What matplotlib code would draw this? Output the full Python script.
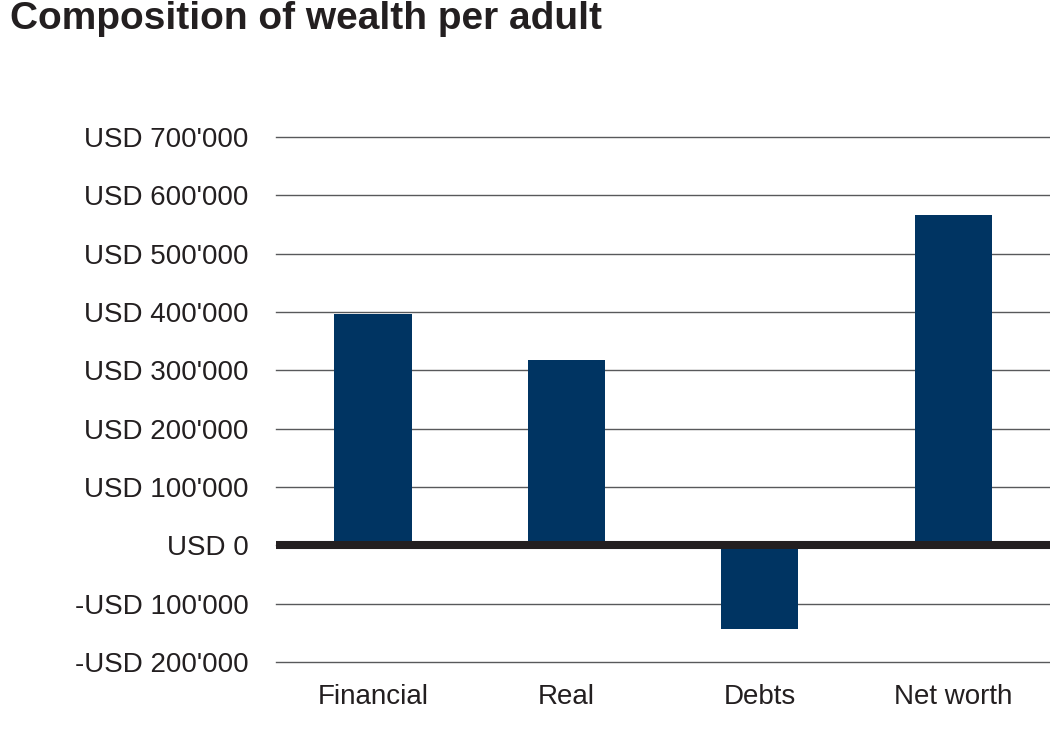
import numpy as np
import matplotlib.pyplot as plt

plt.rcParams['font.family'] = ['Liberation Sans', 'DejaVu Sans']

# ---- data ----
categories = ['Financial', 'Real', 'Debts', 'Net worth']
values = [396000, 317000, -144000, 566000]
yticks = np.arange(-200000, 700001, 100000)


def usd(v):
    s = f"{abs(int(v)):,}".replace(',', "'")
    return ('-' if v < 0 else '') + 'USD ' + s


TEXT = '#231f20'
BAR = '#003462'

fig = plt.figure(figsize=(10.5, 7.33), dpi=100)
ax = fig.add_axes([0.263, 0.0969, 0.737, 0.7162])

x = np.arange(len(categories))
ax.bar(x, values, width=0.4, color=BAR, zorder=2)

# zero line
ax.axhline(0, color=TEXT, lw=5.8, zorder=3)

ax.set_xlim(-0.5, 3.5)
ax.set_ylim(-200000, 700000)
ax.set_yticks(yticks)
ax.set_yticklabels([usd(v) for v in yticks])
ax.set_xticks(x)
ax.set_xticklabels(categories)
ax.yaxis.grid(True, color='#58595b', lw=1, zorder=1)
for gl in ax.get_ygridlines():
    gl.set_clip_on(False)
ax.set_axisbelow(True)
for s in ax.spines.values():
    s.set_visible(False)
ax.tick_params(axis='y', length=0, pad=20, labelsize=20, labelcolor=TEXT)
ax.tick_params(axis='x', length=0, pad=16, labelsize=20, labelcolor=TEXT)

fig.text(0.0095, 0.961, 'Composition of wealth per adult', fontsize=28,
         fontweight='bold', color=TEXT, ha='left', va='baseline')

fig.savefig('out.png', dpi=100)
